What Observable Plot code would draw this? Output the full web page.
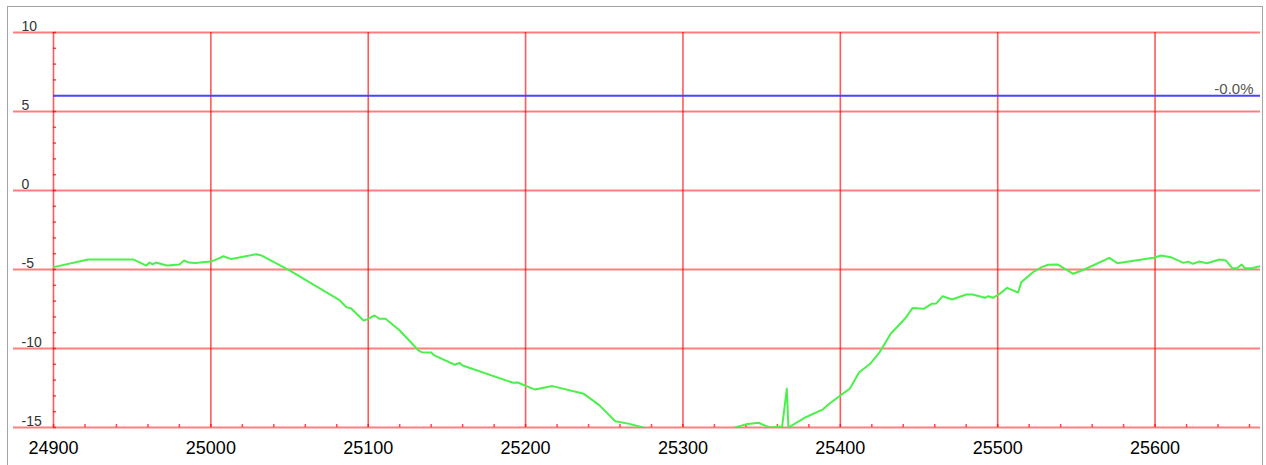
<!DOCTYPE html>
<html><head><meta charset="utf-8">
<script src="https://cdn.jsdelivr.net/npm/d3@7"></script>
<script src="https://cdn.jsdelivr.net/npm/@observablehq/plot@0.6"></script>
<style>
html,body{margin:0;padding:0;background:#fff;}
#wrap{position:relative;width:1266px;height:465px;overflow:hidden;background:#fff;}
#chart{position:absolute;left:0;top:0;}
#border{position:absolute;left:7px;top:6px;width:1256px;height:470px;border:1.5px solid #a3a3a3;box-sizing:border-box;pointer-events:none;}
</style></head><body>
<div id="wrap"><div id="chart"></div><div id="border"></div></div>
<script>
const xDomain = [24900, 25667];
const yDomain = [-15, 10];
const xTicks = [24900, 25000, 25100, 25200, 25300, 25400, 25500, 25600];
const yTicks = [-15, -10, -5, 0, 5, 10];
const xMinorTicks = d3.range(24900, 25667, 20);
const yMinorTicks = d3.range(-15, 11, 1);
const blueLevel = 6;
const blueLabel = "-0.0%";

const seriesX = [24900, 24922, 24951, 24959, 24961, 24963, 24965, 24972, 24980, 24983, 24986, 24990, 25000, 25004, 25008, 25013, 25029, 25032,
  25050, 25082, 25086, 25089, 25097, 25099, 25104, 25107, 25111, 25120, 25132, 25134, 25140, 25142, 25155, 25158, 25160, 25192, 25195,
  25206, 25217, 25237, 25247, 25257, 25266, 25274, 25285, 25300, 25318, 25333, 25340, 25348, 25355, 25361, 25363, 25366, 25367,
  25378, 25389, 25393, 25400, 25406, 25412, 25419, 25425, 25432, 25441, 25446, 25453, 25458, 25461, 25465, 25471, 25480, 25484,
  25492, 25494, 25497, 25501, 25506, 25513, 25515, 25523, 25528, 25532, 25538, 25548, 25555, 25571, 25576, 25599, 25604, 25610,
  25618, 25621, 25624, 25628, 25633, 25641, 25645, 25649, 25652, 25655, 25657, 25662, 25667];
const seriesY = [-4.85, -4.37, -4.37, -4.75, -4.56, -4.68, -4.56, -4.75, -4.68, -4.43, -4.56, -4.59, -4.5, -4.34, -4.16, -4.34, -4.03, -4.11,
  -5.06, -6.96, -7.38, -7.45, -8.23, -8.17, -7.91, -8.12, -8.12, -8.86, -10.13, -10.23, -10.25, -10.44, -11.03, -10.91, -11.08, -12.17, -12.15,
  -12.6, -12.38, -12.87, -13.6, -14.6, -14.77, -14.98, -15.6, -16.0, -15.7, -15.0, -14.8, -14.7, -15.0, -14.95, -14.95, -12.55, -15.0,
  -14.35, -13.85, -13.5, -12.97, -12.55, -11.5, -10.97, -10.23, -9.07, -8.12, -7.43, -7.49, -7.17, -7.15, -6.69, -6.9, -6.58, -6.58,
  -6.79, -6.69, -6.79, -6.56, -6.16, -6.46, -5.8, -5.13, -4.85, -4.7, -4.68, -5.27, -5.0, -4.26, -4.6, -4.26, -4.11, -4.22,
  -4.58, -4.5, -4.64, -4.5, -4.6, -4.37, -4.43, -4.92, -4.92, -4.68, -4.92, -4.9, -4.79];

const series = seriesX.map((x, i) => ({x, y: seriesY[i]}));
const blue = [{value: blueLevel, label: blueLabel}];
const font = "'Liberation Sans', Arial, Helvetica, sans-serif";

const chart = Plot.plot({
  width: 1266, height: 465,
  marginLeft: 53, marginRight: 6, marginTop: 32, marginBottom: 38,
  x: {domain: xDomain, label: null},
  y: {domain: yDomain, label: null},
  style: {fontFamily: font, background: "transparent", overflow: "visible"},
  marks: [
    Plot.ruleY(yTicks, {stroke: "#ff0000", strokeOpacity: 0.5, strokeWidth: 2, insetLeft: -40}),
    Plot.ruleX(xTicks, {stroke: "#ff0000", strokeOpacity: 0.65, strokeWidth: 1.6}),
    Plot.axisY({ticks: yMinorTicks, tickSize: -3, stroke: "#ff0000", strokeOpacity: 0.7, strokeWidth: 1.5, tickFormat: () => "", label: null}),
    Plot.axisX({ticks: xMinorTicks, tickSize: -3, stroke: "#ff0000", strokeOpacity: 0.7, strokeWidth: 1.5, tickFormat: () => "", label: null}),
    Plot.text(yTicks, {y: d => d, text: d => String(d), frameAnchor: "left", textAnchor: "start", lineAnchor: "bottom", dx: -32, dy: -2, fontSize: 14, fill: "#333"}),
    Plot.axisX({ticks: xTicks, tickSize: 0, tickPadding: 14, tickFormat: d => String(d), fontSize: 18, fill: "#000", label: null}),
    Plot.ruleY(blue, {y: "value", stroke: "#4646ff", strokeWidth: 2}),
    Plot.text(blue, {y: "value", text: "label", frameAnchor: "right", textAnchor: "end", lineAnchor: "bottom", dx: -7, dy: -2, fontSize: 15, fill: "#555"}),
    Plot.line(series, {x: "x", y: "y", stroke: "#4cf04c", strokeWidth: 2, clip: true})
  ]
});
document.getElementById("chart").appendChild(chart);
</script>
</body></html>
